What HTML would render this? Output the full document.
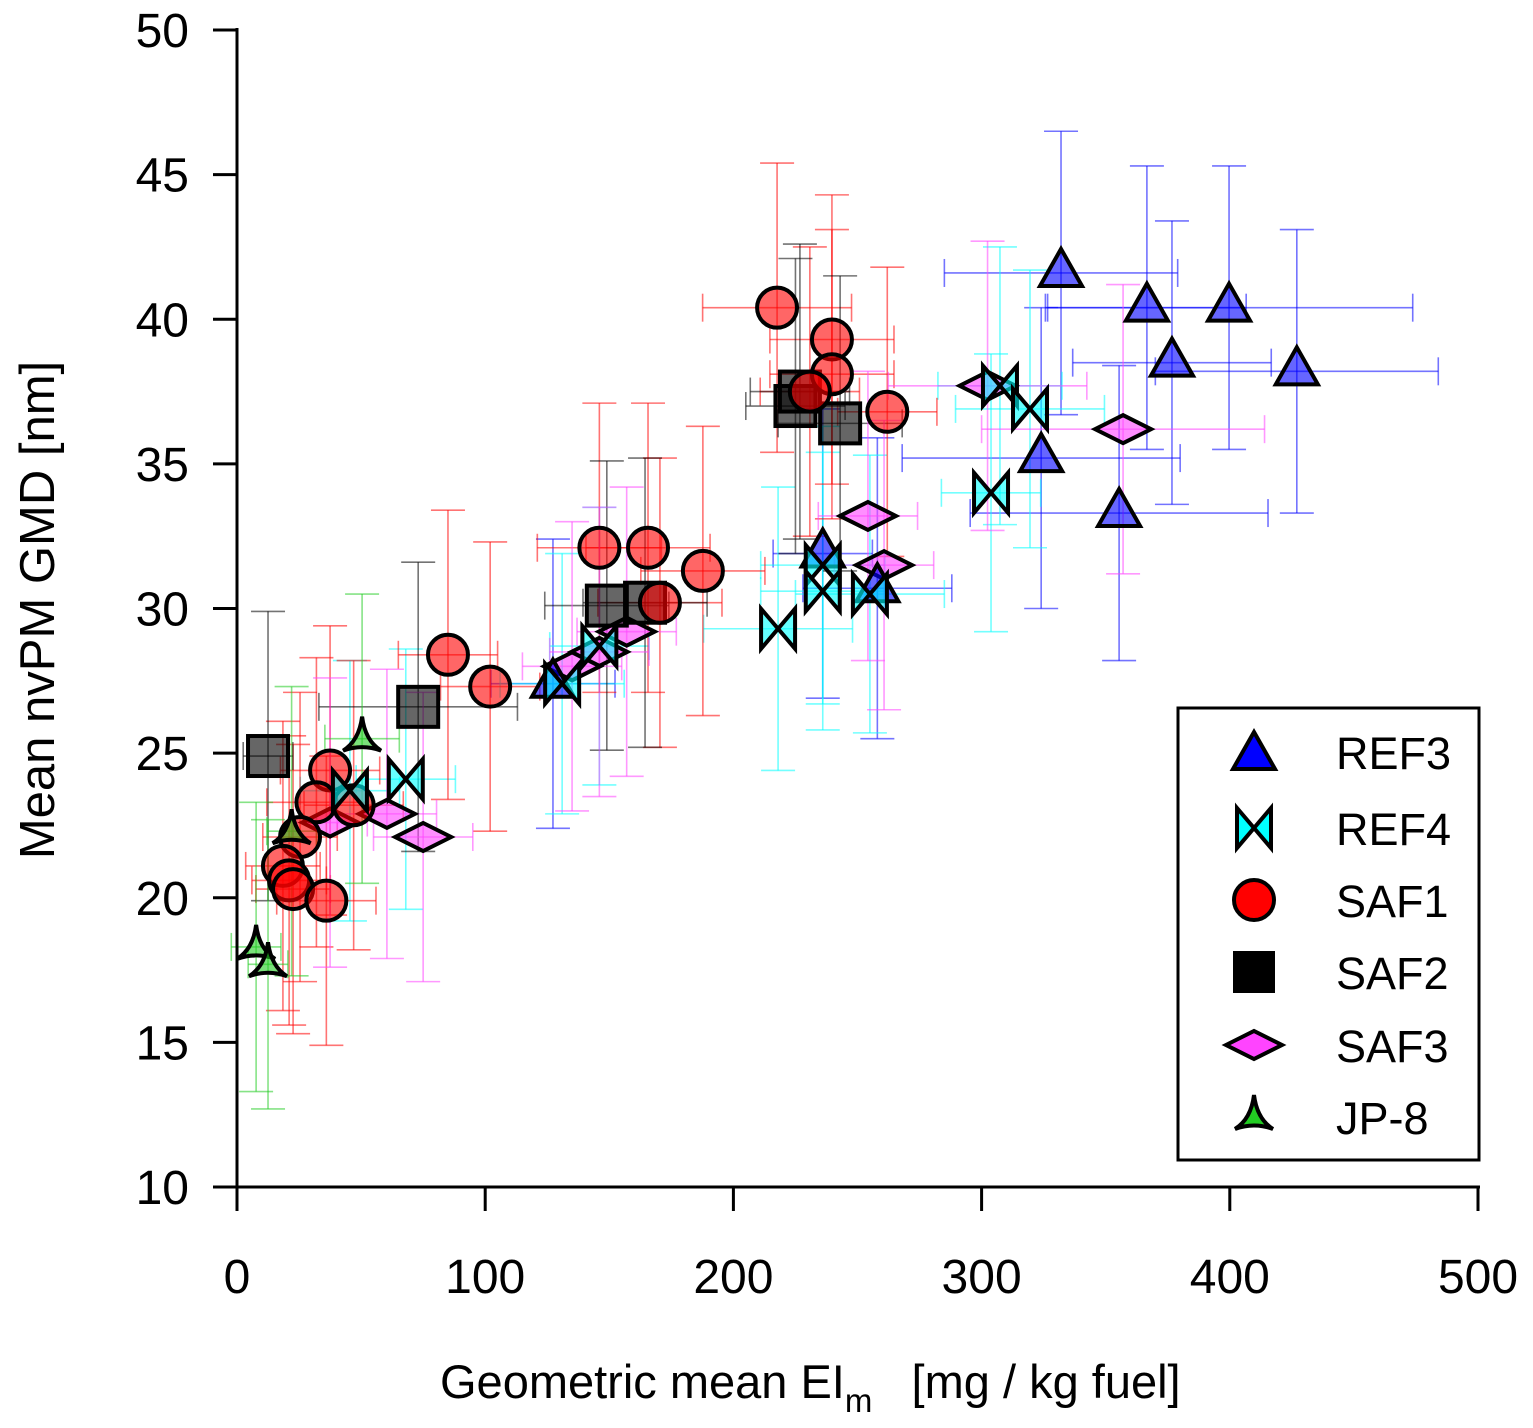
<!DOCTYPE html>
<html><head><meta charset="utf-8"><style>
html,body{margin:0;padding:0;background:#fff;}
svg{display:block;font-family:"Liberation Sans","DejaVu Sans",sans-serif;}
</style></head><body>
<svg id="chart" width="1533" height="1428" viewBox="0 0 1533 1428" xmlns="http://www.w3.org/2000/svg">
<g id="errs"></g>
<g id="marks"></g>
<g id="axes"></g>
<text transform="translate(54,610) rotate(-90)" text-anchor="middle" font-size="49">Mean nvPM GMD [nm]</text>
<text x="440" y="1398" font-size="47">Geometric mean EI<tspan font-size="33" dy="14">m</tspan><tspan dy="-14" xml:space="preserve">   [mg / kg fuel]</tspan></text>
<g>
<rect x="1178" y="708" width="301" height="452" fill="#fff" stroke="#000" stroke-width="3"/>
<g id="legend-items"></g>
</g>
</svg>
<script>
// ---- data ----
const ref3X=[332,366.6,399.7,376.7,427,324,355.4,236,258,127.3];
const ref3Y=[41.6,40.4,40.4,38.5,38.2,35.2,33.3,31.9,30.7,27.4];
const ref3Xerr=[47,40,74,40,57,56,60,20,30,25];
const ref3Yerr=[4.9,4.9,4.9,4.9,4.9,5.2,5.1,5,5.2,5];
const ref4X=[307.4,319.5,303.8,218,236,236,255,146,131,45.5,68];
const ref4Y=[37.7,36.9,34.0,29.3,31.5,30.6,30.5,28.7,27.4,23.7,24.1];
const ref4Xerr=[25,30,20,30,25,25,30,20,25,20,20];
const ref4Yerr=[4.8,4.8,4.8,4.9,4.8,4.8,4.8,4.8,4.5,4.5,4.5];
const saf1X=[217.6,239.7,239.7,230.8,262,146,165.6,187.7,170.4,85,102,37.5,32,25.4,18.5,21,22.6,36,47];
const saf1Y=[40.4,39.3,38.1,37.5,36.8,32.1,32.1,31.3,30.2,28.4,27.3,24.4,23.3,22.1,21.1,20.6,20.3,19.9,23.2];
const saf1Xerr=[30,25,25,20,20,25,25,25,25,20,20,20,20,15,15,15,15,20,20];
const saf1Yerr=[5,5,5,5,5,5,5,5,5,5,5,5,5,5,5,5,5,5,5];
const saf2X=[12.5,73,149,164.4,226.8,225,243];
const saf2Y=[24.9,26.6,30.1,30.2,37.5,37.0,36.4];
const saf2Xerr=[10,40,25,25,20,20,25];
const saf2Yerr=[5,5,5,5,5.1,5.1,5.1];
const saf3X=[302.4,357,254.2,260.7,157,146,135,37.5,60.4,75];
const saf3Y=[37.7,36.2,33.2,31.5,29.2,28.5,28.0,22.6,22.9,22.1];
const saf3Xerr=[40,57,20,20,20,20,20,15,20,20];
const saf3Yerr=[5,5,5,5,5,5,5,5,5,5];
const jp8X=[50.4,22,7.7,12.5];
const jp8Y=[25.5,22.3,18.3,17.7];
const jp8Xerr=[15,10,10,8];
const jp8Yerr=[5,5,5,5];
const xTicks=[0,100,200,300,400,500];
const yTicks=[10,15,20,25,30,35,40,45,50];
const seriesNames=["REF3","REF4","SAF1","SAF2","SAF3","JP-8"];
// ---- scales ----
const X0=237,X1=1478,Y0=1187,Y1=30;
const sx=v=>X0+(v-0)/(500-0)*(X1-X0);
const sy=v=>Y0-(v-10)/(50-10)*(Y0-Y1);
const NS="http://www.w3.org/2000/svg";
function mk(tag,attrs,parent){const e=document.createElementNS(NS,tag);for(const k in attrs)e.setAttribute(k,attrs[k]);parent.appendChild(e);return e;}
const errs=document.getElementById('errs'),marks=document.getElementById('marks'),axes=document.getElementById('axes');
const series=[
 {n:"REF3",x:ref3X,y:ref3Y,xe:ref3Xerr,ye:ref3Yerr,c:"#0000ff",sh:"tri"},
 {n:"REF4",x:ref4X,y:ref4Y,xe:ref4Xerr,ye:ref4Yerr,c:"#00ffff",sh:"bow"},
 {n:"SAF1",x:saf1X,y:saf1Y,xe:saf1Xerr,ye:saf1Yerr,c:"#ff0000",sh:"circ"},
 {n:"SAF2",x:saf2X,y:saf2Y,xe:saf2Xerr,ye:saf2Yerr,c:"#000000",sh:"sq"},
 {n:"SAF3",x:saf3X,y:saf3Y,xe:saf3Xerr,ye:saf3Yerr,c:"#ff44ff",sh:"dia"},
 {n:"JP-8",x:jp8X,y:jp8Y,xe:jp8Xerr,ye:jp8Yerr,c:"#22cc22",sh:"star"}];
function shape(sh,cx,cy,fill,op,parent,scale){
 const s=scale||1;let e;
 const st={fill:fill,'fill-opacity':op,stroke:'#000','stroke-width':4,'stroke-linejoin':'miter'};
 if(sh==="tri"){e=mk('polygon',Object.assign({points:`${cx},${cy-24*s} ${cx+21*s},${cy+13*s} ${cx-21*s},${cy+13*s}`},st),parent);}
 else if(sh==="bow"){e=mk('polygon',Object.assign({points:`${cx-17*s},${cy-20*s} ${cx+17*s},${cy+20*s} ${cx+17*s},${cy-20*s} ${cx-17*s},${cy+20*s}`},st),parent);}
 else if(sh==="circ"){e=mk('circle',Object.assign({cx:cx,cy:cy,r:20*s},st),parent);}
 else if(sh==="sq"){e=mk('rect',Object.assign({x:cx-20*s,y:cy-20*s,width:40*s,height:40*s},st),parent);}
 else if(sh==="dia"){e=mk('polygon',Object.assign({points:`${cx-28*s},${cy} ${cx},${cy-14*s} ${cx+28*s},${cy} ${cx},${cy+14*s}`},st),parent);}
 else {e=mk('path',Object.assign({d:`M${cx},${cy-22*s} Q${cx+3*s},${cy+2*s} ${cx+19*s},${cy+12*s} Q${cx},${cy+5*s} ${cx-19*s},${cy+12*s} Q${cx-3*s},${cy+2*s} ${cx},${cy-22*s}Z`},st),parent);}
 return e;
}
series.forEach(S=>{
 S.x.forEach((v,i)=>{
  const g=mk('g',{stroke:S.c,'stroke-opacity':0.55,'stroke-width':1.6,fill:'none'},errs);
  
  
  const cx=sx(v),cy=sy(S.y[i]);
  const xa=sx(v-S.xe[i]),xb=sx(v+S.xe[i]),ya=sy(S.y[i]+S.ye[i]),yb=sy(S.y[i]-S.ye[i]);
  mk('line',{x1:xa,y1:cy,x2:xb,y2:cy},g);
  mk('line',{x1:cx,y1:ya,x2:cx,y2:yb},g);
  mk('line',{x1:cx-17,y1:ya,x2:cx+17,y2:ya},g);
  mk('line',{x1:cx-17,y1:yb,x2:cx+17,y2:yb},g);
  mk('line',{x1:xa,y1:cy-14,x2:xa,y2:cy+14},g);
  mk('line',{x1:xb,y1:cy-14,x2:xb,y2:cy+14},g);
 });
});
const order=["SAF3","SAF2","SAF1","JP-8","REF3","REF4"];
order.forEach(n=>{const S=series.find(s=>s.n===n);
 S.x.forEach((v,i)=>{
  const e=shape(S.sh,sx(v),sy(S.y[i]),S.c,0.6,marks);
  
  
 });
});
// axes
mk('line',{x1:X0,y1:Y1-2,x2:X0,y2:Y0,stroke:'#000','stroke-width':3},axes);
mk('line',{x1:X0,y1:Y0,x2:X1+2,y2:Y0,stroke:'#000','stroke-width':3},axes);
xTicks.forEach(t=>{
 mk('line',{x1:sx(t),y1:Y0,x2:sx(t),y2:Y0+24,stroke:'#000','stroke-width':3},axes);
 const tx=mk('text',{x:sx(t),y:1293,'text-anchor':'middle','font-size':48},axes);
 tx.textContent=t;
 
 
});
yTicks.forEach(t=>{
 mk('line',{x1:X0-24,y1:sy(t),x2:X0,y2:sy(t),stroke:'#000','stroke-width':3},axes);
 const tx=mk('text',{x:189,y:sy(t)+17,'text-anchor':'end','font-size':48},axes);
 tx.textContent=t;
 
 
});
// legend
const li=document.getElementById('legend-items');
const ly=[752,828,900,972,1045,1117];
seriesNames.forEach((n,i)=>{
 const S=series.find(s=>s.n===n);
 const g=mk('g',{},li);
 
 
 shape(S.sh,1254,ly[i]+(S.sh==="tri"?4:0),S.c,1,g,S.sh==="sq"?0.95:1);
 const t=mk('text',{x:1336,y:ly[i]+17,'font-size':45},g);
 t.textContent=n;
});
</script>
</body></html>
